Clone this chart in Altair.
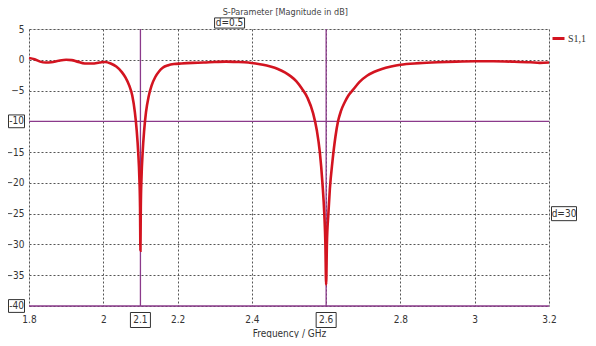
import altair as alt
import pandas as pd

# S1,1 curve (GHz, dB)
freq = [1.800, 1.815, 1.830, 1.845, 1.860, 1.880, 1.900, 1.915, 1.930, 1.950,
        1.970, 1.990, 2.005, 2.020, 2.035, 2.050, 2.060, 2.070, 2.078, 2.085,
        2.090, 2.094, 2.097, 2.099, 2.100, 2.101, 2.103, 2.106, 2.110, 2.115,
        2.122, 2.130, 2.140, 2.150, 2.160, 2.175, 2.190, 2.210, 2.240, 2.270,
        2.300, 2.330, 2.360, 2.390, 2.410, 2.430, 2.450, 2.470, 2.490, 2.505,
        2.520, 2.535, 2.550, 2.565, 2.575, 2.583, 2.590, 2.595, 2.598, 2.600,
        2.602, 2.606, 2.610, 2.617, 2.625, 2.632, 2.640, 2.650, 2.660, 2.672,
        2.690, 2.710, 2.730, 2.750, 2.775, 2.800, 2.850, 2.900, 2.950, 3.000,
        3.050, 3.100, 3.150, 3.175, 3.200]
s11 = [0.3, 0.1, -0.3, -0.45, -0.4, -0.15, 0.0, -0.05, -0.3, -0.6,
       -0.6, -0.45, -0.35, -0.6, -1.1, -2.0, -2.9, -4.2, -5.8, -8.5,
       -11.5, -15, -19, -24, -31, -24, -19, -15, -11.5, -8.5,
       -6.0, -4.2, -2.8, -1.9, -1.3, -0.9, -0.7, -0.6, -0.5, -0.45,
       -0.35, -0.3, -0.35, -0.45, -0.6, -0.8, -1.1, -1.5, -2.1, -2.7,
       -3.5, -4.7, -6.2, -8.7, -11.5, -15, -20, -25, -30, -36.5,
       -30, -25, -21, -16.5, -12.5, -10, -8.3, -6.9, -5.8, -4.9,
       -3.6, -2.6, -1.95, -1.5, -1.1, -0.8, -0.55, -0.4, -0.3, -0.25,
       -0.25, -0.3, -0.4, -0.5, -0.45]

marker_x = [2.1, 2.6]
marker_y = [-10, -40]
x_ticks = [1.8, 2.0, 2.2, 2.4, 2.6, 2.8, 3.0, 3.2]
y_ticks = [5, 0, -5, -10, -15, -20, -25, -30, -35, -40]
title_text = "S-Parameter [Magnitude in dB]"
series_name = "S1,1"

FONT = "DejaVu Sans Condensed"
PURPLE = "#8b3a8b"
RED = "#d31420"
BOX = "M-1,-0.75L1,-0.75L1,0.75L-1,0.75Z"
YBOX = "M-1,-0.8L1,-0.8L1,0.8L-1,0.8Z"

df = pd.DataFrame({"f": freq, "s": s11, "series": series_name})

xs = alt.Scale(domain=[1.8, 3.2], nice=False, zero=False)
ys = alt.Scale(domain=[-40, 5], nice=False, zero=False)

xaxis = alt.Axis(values=x_ticks, format="~g", grid=True, gridDash=[2, 2],
                 gridColor="#555", gridOpacity=1, ticks=False, labelPadding=8,
                 labelFlush=False, labelOverlap=False,
                 labelExpr="datum.value == 2.6 ? '' : datum.label",
                 title="Frequency / GHz", titlePadding=4, titleFontWeight="normal",
                 labelFont=FONT, titleFont=FONT, labelFontSize=10, titleFontSize=10,
                 labelColor="#333", titleColor="#333", domain=False)
yaxis = alt.Axis(values=y_ticks, grid=True, gridDash=[2, 2], gridColor="#555",
                 gridOpacity=1, ticks=False, labelPadding=5, title=None,
                 labelFlush=False, labelOverlap=False,
                 labelExpr="(datum.value == -10 || datum.value == -40) ? '' : datum.label",
                 labelFont=FONT, labelFontSize=10, labelColor="#333", domain=False)

X = alt.X("x:Q", scale=xs, axis=xaxis)
Y = alt.Y("y:Q", scale=ys, axis=yaxis)

line = alt.Chart(df).mark_line(strokeWidth=2.6, interpolate="monotone").encode(
    x=alt.X("f:Q", scale=xs, axis=xaxis),
    y=alt.Y("s:Q", scale=ys, axis=yaxis),
    color=alt.Color("series:N",
                    scale=alt.Scale(domain=[series_name], range=[RED]),
                    legend=alt.Legend(title=None, orient="none", legendX=522, legendY=2,
                                      symbolType="stroke", symbolSize=144,
                                      symbolStrokeWidth=3, labelFont="Liberation Serif",
                                      labelFontSize=10, labelColor="#333",
                                      padding=0, labelOffset=2)),
)

vdf = pd.DataFrame({"x": marker_x})
vlines = alt.Chart(vdf).mark_rule(color=PURPLE, strokeWidth=1.3).encode(x=X)
hdf = pd.DataFrame({"y": marker_y})
hlines = alt.Chart(hdf).mark_rule(color=PURPLE, strokeWidth=1.3).encode(y=Y)

# boxed x marker labels
xl = pd.DataFrame({"x": marker_x, "y": [-40, -40], "t": ["2.1", "2.6"]})
xbox = alt.Chart(xl).mark_point(shape=BOX, size=400, filled=True, fill="white",
                                stroke="#333", strokeWidth=1, opacity=1, yOffset=14).encode(x=X, y=Y)
xtxt = alt.Chart(xl).mark_text(font=FONT, fontSize=10, color="#333", yOffset=14,
                               baseline="middle").encode(x=X, y=Y, text="t:N")

# boxed y marker labels
yl = pd.DataFrame({"x": [1.8, 1.8], "y": marker_y, "t": ["-10", "-40"]})
ybox = alt.Chart(yl).mark_point(shape=YBOX, size=256, filled=True, fill="white",
                                stroke="#333", strokeWidth=1, opacity=1, xOffset=-12.5).encode(x=X, y=Y)
ytxt = alt.Chart(yl).mark_text(font=FONT, fontSize=10, color="#333", xOffset=-12.5,
                               baseline="middle").encode(x=X, y=Y, text="t:N")

# chart title as text
tdf = pd.DataFrame({"x": [2.49], "y": [5], "t": [title_text]})
ttl = alt.Chart(tdf).mark_text(font=FONT, fontSize=9, color="#444", yOffset=-17,
                               baseline="middle").encode(x=X, y=Y, text="t:N")

# d= annotations
d1 = pd.DataFrame({"x": [2.34], "y": [5], "t": ["d=0.5"]})
d2 = pd.DataFrame({"x": [3.2], "y": [-25], "t": ["d=30"]})
dbox1 = alt.Chart(d1).mark_point(shape="M-1,-0.34L1,-0.34L1,0.34L-1,0.34Z", size=900,
                                 filled=True, fill="white", stroke="#333",
                                 strokeWidth=1, opacity=1, yOffset=-6).encode(x=X, y=Y)
dtxt1 = alt.Chart(d1).mark_text(font=FONT, fontSize=10, color="#333", yOffset=-6,
                                baseline="middle").encode(x=X, y=Y, text="t:N")
dbox2 = alt.Chart(d2).mark_point(shape="M-1,-0.56L1,-0.56L1,0.56L-1,0.56Z", size=625,
                                 filled=True, fill="white", stroke="#333",
                                 strokeWidth=1, opacity=1, xOffset=15).encode(x=X, y=Y)
dtxt2 = alt.Chart(d2).mark_text(font=FONT, fontSize=10, color="#333", xOffset=15,
                                baseline="middle").encode(x=X, y=Y, text="t:N")

chart = alt.layer(
    vlines, hlines, line, xbox, xtxt, ybox, ytxt, ttl, dbox1, dtxt1, dbox2, dtxt2
).properties(
    width=520, height=277,
    padding={"left": 21, "top": 21, "right": 39, "bottom": 32},
    autosize=alt.AutoSizeParams(type="none"),
).configure_view(stroke="#888", strokeWidth=1).configure(background="white")

chart.save("out.html", embed_options={"renderer": "svg", "actions": False})
